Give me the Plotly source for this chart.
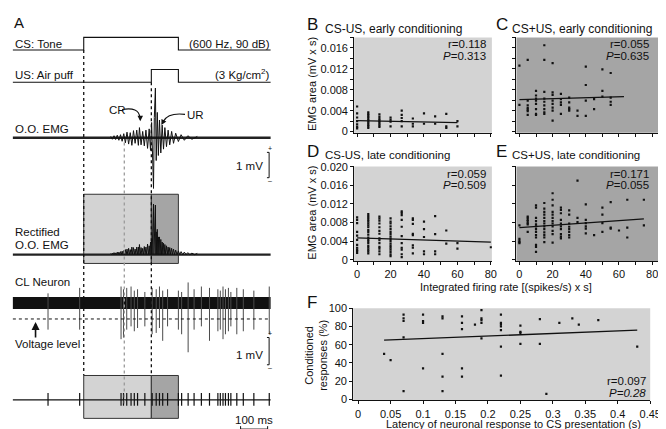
import plotly.graph_objects as go

W, H = 666, 429
FONT = "Arial, 'Liberation Sans', Helvetica, sans-serif"
LIGHT = "#d3d3d3"
DARK = "#a5a5a5"
BLACK = "#111111"

# ---------------- Panel A data (times in ms from CS onset) ----------------
t_start, t_end = -262, 691
cs_on, cs_off = 0, 350
us_on, us_off = 250, 350
neuron_latency = 150
scale_ms = 100          # time scale bar
scale_mv = 1            # voltage scale bars

# O.O. EMG burst (mV)
emg_t = [100, 106, 112, 118, 124, 130, 136, 142, 148, 154, 160, 166, 172, 178, 184, 190, 196,
         202, 206, 212, 218, 224, 230, 236, 242, 247, 251, 255, 258, 261, 265, 268, 272, 276,
         280, 285, 290, 295, 300, 306, 312, 318, 325, 332, 340, 350, 360, 372, 385, 400, 420]
emg_v = [0.05, -0.06, 0.08, -0.07, 0.1, -0.1, 0.12, -0.14, 0.16, -0.2, 0.22, -0.25, 0.2, -0.3,
         0.28, -0.22, 0.3, -0.3, 0.4, -0.28, 0.25, -0.32, 0.3, -0.42, 0.35, -0.5, 0.6, -0.9,
         -2.0, 0.8, 1.96, -0.9, 1.0, -0.7, 0.7, -0.6, 0.5, -0.45, 0.4, -0.35, 0.3, -0.28, 0.25,
         -0.22, 0.18, -0.15, 0.12, -0.1, 0.08, -0.06, 0.05]

# CL neuron spikes: time (ms), downward and upward deflection (mV)
spike_t = [-132, -15, 138, 147, 159, 175, 187, 199, 226, 253, 268, 280, 292, 310, 350, 362,
           386, 408, 435, 465, 496, 505, 515, 524, 535, 544, 566, 590, 629, 686]
spike_down = [0.98, 0.98, 1.33, 1.27, 0.98, 0.86, 1.04, 0.92, 0.86, 1.15, 1.1, 0.92, 1.39,
              0.86, 0.98, 1.15, 1.81, 0.98, 0.86, 1.39, 1.04, 0.98, 1.33, 1.15, 1.04, 0.86,
              1.15, 1.04, 0.98, 1.15]
spike_up = [0.35, 0.55, 0.6, 0.5, 0.55, 0.6, 0.45, 0.5, 0.4, 0.55, 0.5, 0.6, 0.45, 0.5, 0.45,
            0.4, 0.75, 0.5, 0.6, 0.55, 0.5, 0.45, 0.6, 0.5, 0.55, 0.4, 0.55, 0.5, 0.45, 0.6]

# ---------------- Panels B-F data ----------------
B_cols = [0, 6.67, 13.33, 20, 26.67, 33.33, 40, 46.67, 53.33, 60]
B_vals = [[0.0048, 0.0035, 0.0027, 0.0020, 0.0014, 0.0009, 0.0006],
          [0.0037, 0.0034, 0.0031, 0.0028, 0.0025, 0.0022, 0.0019, 0.0016, 0.0013, 0.0010, 0.0007],
          [0.0033, 0.0028, 0.0024, 0.0021, 0.0018, 0.0015, 0.0012, 0.0009],
          [0.0027, 0.0023, 0.0019, 0.0010],
          [0.0040, 0.0032, 0.0026, 0.0020, 0.0010],
          [0.0025, 0.0015, 0.0010],
          [0.0035, 0.0015],
          [0.0029, 0.0015],
          [0.0034, 0.0010, 0.0007],
          [0.0020, 0.0010]]
B_fit_x, B_fit_y = [0, 60], [0.0021, 0.0017]

C_cols = [0, 5, 10, 15, 20, 25, 30, 35, 40, 45, 50, 55]
C_vals = [[0.0126, 0.0051],
          [0.0137, 0.0059, 0.0050, 0.0045, 0.0042, 0.0039, 0.0032],
          [0.0078, 0.0069, 0.0063, 0.0059, 0.0053, 0.0043, 0.0034, 0.0032],
          [0.0165, 0.0137, 0.0076, 0.0063, 0.0057, 0.0050, 0.0043, 0.0037, 0.0034],
          [0.0131, 0.0075, 0.0070, 0.0059, 0.0053, 0.0046, 0.0040, 0.0021],
          [0.0072, 0.0062, 0.0056, 0.0051, 0.0034],
          [0.0065, 0.0056, 0.0046, 0.0043, 0.0040],
          [0.0040, 0.0030],
          [0.0124, 0.0089, 0.0059, 0.0030],
          [0.0062, 0.0043],
          [0.0119, 0.0078, 0.0067],
          [0.0112, 0.0065, 0.0057, 0.0051]]
C_fit_x, C_fit_y = [0, 63], [0.0061, 0.0067]

D_cols = [0, 6.67, 13.33, 20, 26.67, 33.33, 40, 46.67, 53.33, 60, 80]
D_vals = [[0.0091, 0.0086, 0.0079, 0.0060, 0.0052, 0.0043, 0.0032, 0.0026, 0.0022, 0.0019, 0.0015],
          [0.0098, 0.0094, 0.0090, 0.0086, 0.0082, 0.0078, 0.0074, 0.0070, 0.0064, 0.0060,
           0.0054, 0.0048, 0.0044, 0.0040, 0.0036, 0.0030, 0.0026, 0.0022, 0.0018, 0.0014],
          [0.0093, 0.0089, 0.0084, 0.0078, 0.0070, 0.0062, 0.0056, 0.0046, 0.0042, 0.0036,
           0.0028, 0.0024, 0.0018, 0.0012],
          [0.0089, 0.0082, 0.0078, 0.0072, 0.0066, 0.0060, 0.0055, 0.0050, 0.0045, 0.0040,
           0.0035, 0.0030, 0.0026, 0.0022, 0.0017, 0.0012, 0.0008],
          [0.0104, 0.0101, 0.0096, 0.0086, 0.0071, 0.0051, 0.0036, 0.0026, 0.0022, 0.0012, 0.0006],
          [0.0089, 0.0086, 0.0077, 0.0056, 0.0053, 0.0031, 0.0026, 0.0014],
          [0.0082, 0.0066, 0.0049, 0.0018, 0.0012],
          [0.0094, 0.0055, 0.0018, 0.0012],
          [0.0063, 0.0035],
          [0.0036, 0.0024],
          [0.0027]]
D_fit_x, D_fit_y = [0, 80], [0.0047, 0.0038]

E_cols = [0, 5, 10, 15, 20, 25, 30, 35, 40, 45, 50, 55, 60, 65, 75]
E_vals = [[0.0074, 0.0045, 0.0041, 0.0038, 0.0036],
          [0.0093, 0.0090, 0.0086, 0.0083, 0.0079, 0.0076, 0.0060],
          [0.0117, 0.0112, 0.0090, 0.0083, 0.0076, 0.0072, 0.0066, 0.0060, 0.0053, 0.0048,
           0.0032, 0.0028, 0.0017],
          [0.0122, 0.0110, 0.0103, 0.0097, 0.0090, 0.0083, 0.0078, 0.0072, 0.0066, 0.0059,
           0.0053, 0.0048, 0.0038],
          [0.0143, 0.0129, 0.0117, 0.0103, 0.0097, 0.0090, 0.0083, 0.0078, 0.0072, 0.0062,
           0.0055, 0.0037],
          [0.0112, 0.0107, 0.0100, 0.0086, 0.0078, 0.0072, 0.0066, 0.0055, 0.0050, 0.0046],
          [0.0106, 0.0097, 0.0078, 0.0071, 0.0066, 0.0060, 0.0053, 0.0048],
          [0.0170, 0.0090, 0.0081],
          [0.0119, 0.0086, 0.0079, 0.0072, 0.0067, 0.0057],
          [0.0053],
          [0.0112, 0.0097, 0.0079, 0.0060],
          [0.0124, 0.0069, 0.0067],
          [0.0063],
          [0.0129, 0.0069, 0.0048],
          [0.0129, 0.0074]]
E_fit_x, E_fit_y = [0, 75], [0.0069, 0.0088]

F_cols = [0.04, 0.05, 0.07, 0.10, 0.13, 0.16, 0.18, 0.19, 0.22, 0.25, 0.28, 0.29, 0.31,
          0.33, 0.34, 0.37, 0.43]
F_vals = [[50], [43], [93, 89, 86, 68, 9], [93, 86, 84, 34], [91, 89, 50, 25, 9],
          [91, 84, 77, 34, 25], [82], [98, 89, 87, 84, 67], [93, 84, 82, 80, 76, 58, 26],
          [81, 74, 73, 61], [88, 61], [6], [84], [89], [82], [87], [58]]
F_fit_x, F_fit_y = [0.04, 0.43], [65, 76]

B_ticks_y = [0, 0.002, 0.004, 0.006, 0.008, 0.010, 0.012, 0.014, 0.016, 0.018]
B_ticktext_y = ["0", "", "0.004", "", "0.008", "", "0.012", "", "0.016", ""]
D_ticks_y = [0, 0.004, 0.008, 0.012, 0.016, 0.020]
D_ticktext_y = ["0", "0.004", "0.008", "0.012", "0.016", "0.020"]
rate_ticks = [0, 10, 20, 30, 40, 50, 60, 70, 80]
rate_ticktext = ["0", "", "20", "", "40", "", "60", "", "80"]
F_ticks_x = [0, 0.05, 0.1, 0.15, 0.2, 0.25, 0.3, 0.35, 0.4, 0.45]
F_ticktext_x = ["0", "0.05", "0.1", "0.15", "0.2", "0.25", "0.3", "0.35", "0.4", "0.45"]
F_ticks_y = [0, 20, 40, 60, 80, 100]

# ---------------- layout constants for panel A (pixel rows) ----------------
A_X0, A_PPMS = 77.0, 0.275          # pixel of CS onset, px per ms
def tA(X):
    return (X - A_X0) / A_PPMS

CS_LO, CS_HI = 37, 24
US_LO, US_HI = 70, 57
EMG_BASE, EMG_PX = 127, 26
RECT_BASE = 247
NEU_BASE, NEU_PX = 296.5, 28
VOLT_LEVEL = 313
RAS_BASE = 396

fig = go.Figure()

def line_trace(x, y, width=1.0, color=BLACK, xa="x", ya="y"):
    fig.add_trace(go.Scatter(x=x, y=y, mode="lines", line=dict(color=color, width=width),
                             xaxis=xa, yaxis=ya, hoverinfo="skip", showlegend=False))

# CS and US steps
line_trace([t_start, cs_on, cs_on, cs_off, cs_off, t_end],
           [CS_LO, CS_LO, CS_HI, CS_HI, CS_LO, CS_LO], 1.1)
line_trace([t_start, us_on, us_on, us_off, us_off, t_end],
           [US_LO, US_LO, US_HI, US_HI, US_LO, US_LO], 1.1)

# EMG
line_trace([t_start, t_end], [EMG_BASE, EMG_BASE], 2.3, "#222222")
line_trace(emg_t, [EMG_BASE - v * EMG_PX for v in emg_v], 1.0)

# Rectified EMG: |v| with the zero crossings between samples of opposite sign
rt, rv = [], []
for i, (t, v) in enumerate(zip(emg_t, emg_v)):
    if i > 0 and (v > 0) != (emg_v[i - 1] > 0):
        rt.append((t + emg_t[i - 1]) / 2)
        rv.append(0)
    rt.append(t)
    rv.append(abs(v))
line_trace([t_start, t_end], [RECT_BASE, RECT_BASE], 2.3, "#222222")
line_trace(rt, [RECT_BASE - v * EMG_PX for v in rv], 1.0)

# Neuron
line_trace([t_start, t_end], [NEU_BASE, NEU_BASE], 12, BLACK)
sx, sy = [], []
for t, d, u in zip(spike_t, spike_down, spike_up):
    sx += [t, t, None]
    sy += [NEU_BASE - u * NEU_PX, NEU_BASE + d * NEU_PX, None]
line_trace(sx, sy, 1.0, "#4a4a4a")

# Raster
line_trace([t_start, t_end], [RAS_BASE, RAS_BASE], 1.2)
rx, ry = [], []
for t in spike_t:
    rx += [t, t, None]
    ry += [RAS_BASE - 7, RAS_BASE + 6, None]
line_trace(rx, ry, 1.2)

# ---------------- scatter panels ----------------
def scatter_cols(cols, vals, xa, ya):
    xs, ys = [], []
    for c, vs in zip(cols, vals):
        xs += [c] * len(vs)
        ys += vs
    fig.add_trace(go.Scatter(x=xs, y=ys, mode="markers",
                             marker=dict(symbol="square", size=2.2, color=BLACK, line=dict(width=0)),
                             xaxis=xa, yaxis=ya, hoverinfo="skip", showlegend=False))

for cols, vals, fx, fy, n in [(B_cols, B_vals, B_fit_x, B_fit_y, 2),
                              (C_cols, C_vals, C_fit_x, C_fit_y, 3),
                              (D_cols, D_vals, D_fit_x, D_fit_y, 4),
                              (E_cols, E_vals, E_fit_x, E_fit_y, 5),
                              (F_cols, F_vals, F_fit_x, F_fit_y, 6)]:
    scatter_cols(cols, vals, f"x{n}", f"y{n}")
    line_trace(fx, fy, 1.3, BLACK, f"x{n}", f"y{n}")

# ---------------- axes ----------------
def ax(**kw):
    base = dict(showgrid=False, zeroline=False, showline=True, linecolor=BLACK, linewidth=1,
                ticks="outside", ticklen=3, tickwidth=1, tickcolor=BLACK, fixedrange=True,
                tickfont=dict(family=FONT, size=11, color=BLACK))
    base.update(kw)
    return base

def dom_x(a, b): return [a / W, b / W]
def dom_y(top, bottom): return [1 - bottom / H, 1 - top / H]

layout_axes = dict(
    xaxis=dict(domain=[0, 270 / W], range=[tA(0), tA(270)], visible=False, fixedrange=True),
    yaxis=dict(domain=[0, 1], range=[H, 0], visible=False, fixedrange=True),
    xaxis2=ax(domain=dom_x(352, 492), range=[-1.76, 80.6], anchor="y2",
              tickvals=rate_ticks, showticklabels=False),
    yaxis2=ax(domain=dom_y(24, 122), range=[-0.00024, 0.018], anchor="x2",
              tickvals=B_ticks_y, ticktext=B_ticktext_y),
    xaxis3=ax(domain=dom_x(517, 663), range=[-1.78, 84.74], anchor="y3",
              tickvals=rate_ticks, showticklabels=False),
    yaxis3=ax(domain=dom_y(24, 122), range=[-0.00024, 0.018], anchor="x3",
              tickvals=B_ticks_y, showticklabels=False),
    xaxis4=ax(domain=dom_x(352, 492), range=[-1.76, 80.6], anchor="y4",
              tickvals=rate_ticks, ticktext=rate_ticktext),
    yaxis4=ax(domain=dom_y(156.5, 253.5), range=[-0.00025, 0.02004], anchor="x4",
              tickvals=D_ticks_y, ticktext=D_ticktext_y),
    xaxis5=ax(domain=dom_x(517, 663), range=[-1.78, 84.74], anchor="y5",
              tickvals=rate_ticks, ticktext=rate_ticktext),
    yaxis5=ax(domain=dom_y(156.5, 253.5), range=[-0.00025, 0.02004], anchor="x5",
              tickvals=D_ticks_y, showticklabels=False),
    xaxis6=ax(domain=dom_x(351, 653), range=[-0.0076, 0.45], anchor="y6",
              tickvals=F_ticks_x, ticktext=F_ticktext_x),
    yaxis6=ax(domain=dom_y(302, 396.5), range=[-1.04, 100], anchor="x6",
              tickvals=F_ticks_y),
)

# ---------------- shapes ----------------
shapes = []
for n, col in [(2, LIGHT), (3, DARK), (4, LIGHT), (5, DARK), (6, LIGHT)]:
    shapes.append(dict(type="rect", xref=f"x{n} domain", yref=f"y{n} domain", x0=0, x1=1,
                       y0=0, y1=1, fillcolor=col, line=dict(width=0), layer="below"))

for top, bot in [(185, 256), (371, 415)]:
    shapes.append(dict(type="rect", xref="x", yref="y", x0=cs_on, x1=us_on, y0=top, y1=bot,
                       fillcolor=LIGHT, line=dict(color="#333333", width=1), layer="below"))
    shapes.append(dict(type="rect", xref="x", yref="y", x0=us_on, x1=cs_off, y0=top, y1=bot,
                       fillcolor=DARK, line=dict(color="#333333", width=1), layer="below"))

# dotted guide lines
shapes.append(dict(type="line", xref="x", yref="y", x0=cs_on, x1=cs_on, y0=CS_LO, y1=371,
                   line=dict(color=BLACK, width=1.3, dash="dot")))
shapes.append(dict(type="line", xref="x", yref="y", x0=us_on, x1=us_on, y0=US_LO, y1=371,
                   line=dict(color=BLACK, width=1.3, dash="dot")))
shapes.append(dict(type="line", xref="x", yref="y", x0=neuron_latency, x1=neuron_latency,
                   y0=132, y1=402, line=dict(color="#9a9a9a", width=1.3, dash="dot")))
shapes.append(dict(type="line", xref="x", yref="y", x0=t_start, x1=t_end, y0=VOLT_LEVEL,
                   y1=VOLT_LEVEL, line=dict(color=BLACK, width=1, dash="dot")))

# voltage scale bars
tb = tA(265.5)
for top in [142, 332]:
    bot = top + scale_mv * (EMG_PX if top < 200 else NEU_PX)
    shapes.append(dict(type="line", xref="x", yref="y", x0=tb, x1=tb, y0=top, y1=bot,
                       line=dict(color=BLACK, width=1)))
    for yy in (top, bot):
        shapes.append(dict(type="line", xref="x", yref="y", x0=tb - 8, x1=tb, y0=yy, y1=yy,
                           line=dict(color=BLACK, width=1)))
# time scale bar
te = tA(264)
shapes.append(dict(type="line", xref="x", yref="y", x0=te - scale_ms, x1=te, y0=426, y1=426,
                   line=dict(color=BLACK, width=1)))
for xx in (te - scale_ms, te):
    shapes.append(dict(type="line", xref="x", yref="y", x0=xx, x1=xx, y0=423, y1=426,
                       line=dict(color=BLACK, width=1)))

# CR / UR curved arrows
shapes.append(dict(type="path", xref="x", yref="y",
                   path=f"M {tA(116)} 98 Q {tA(133)} 95 {tA(134)} 106",
                   line=dict(color=BLACK, width=1.1)))
shapes.append(dict(type="path", xref="x", yref="y",
                   path=f"M {tA(180)} 103 Q {tA(163)} 101 {tA(158)} 110",
                   line=dict(color=BLACK, width=1.1)))

# ---------------- annotations ----------------
anns = []
def ann(text, X, Y, size=11.5, xanchor="left", **kw):
    d = dict(text=text, x=X / W, y=1 - Y / H, xref="paper", yref="paper", showarrow=False,
             xanchor=xanchor, yanchor="middle", font=dict(family=FONT, size=size, color=BLACK))
    d.update(kw)
    anns.append(d)

ann("A", 4, 9, 15)
ann("CS: Tone", 5, 31)
ann("(600 Hz, 90 dB)", 268, 31, xanchor="right")
ann("US: Air puff", 5, 63)
ann("(3 Kg/cm<sup>2</sup>)", 268, 62, xanchor="right")
ann("O.O. EMG", 5, 118)
ann("CR", 101, 99)
ann("UR", 180, 104)
ann("1 mV", 261, 156, xanchor="right")
ann("+", 266, 138, 7, xanchor="center")
ann("–", 266, 171, 7, xanchor="center")
ann("Rectified", 5, 224)
ann("O.O. EMG", 5, 237)
ann("CL Neuron", 5, 275)
ann("Voltage level", 5, 339)
ann("1 mV", 261, 350, xanchor="right")
ann("+", 266, 328, 7, xanchor="center")
ann("–", 266, 363, 7, xanchor="center")
ann("100 ms", 250, 417, xanchor="center")

# arrows (heads)
anns.append(dict(x=tA(28), y=316, xref="x", yref="y", ax=0, ay=17, text="", showarrow=True,
                 arrowhead=2, arrowsize=1, arrowwidth=1.6, arrowcolor=BLACK))
anns.append(dict(x=tA(134.5), y=110, xref="x", yref="y", ax=0, ay=-5, text="", showarrow=True,
                 arrowhead=2, arrowsize=1, arrowwidth=1.1, arrowcolor=BLACK))
anns.append(dict(x=tA(156), y=114, xref="x", yref="y", ax=3, ay=-6, text="", showarrow=True,
                 arrowhead=2, arrowsize=1, arrowwidth=1.1, arrowcolor=BLACK))

# panel letters & titles
ann("B", 302, 11, 17)
ann("CS-US, early conditioning", 320, 15, 12)
ann("C", 494, 11, 17)
ann("CS+US, early conditioning", 510, 15, 12)
ann("D", 302, 141, 17)
ann("CS-US, late conditioning", 320, 145, 11.5)
ann("E", 494, 141, 17)
ann("CS+US, late conditioning", 510, 145, 11.5)
ann("F", 302, 296, 17)

# stats
ann("r=0.118", 488, 31, xanchor="right")
ann("<i>P</i>=0.313", 488, 43, xanchor="right")
ann("r=0.055", 654, 31, xanchor="right")
ann("<i>P</i>=0.635", 654, 43, xanchor="right")
ann("r=0.059", 488, 164, xanchor="right")
ann("<i>P</i>=0.509", 488, 175, xanchor="right")
ann("r=0.171", 654, 164, xanchor="right")
ann("<i>P</i>=0.055", 654, 175, xanchor="right")
ann("r=0.097", 651, 377, xanchor="right")
ann("<i>P=0.28</i>", 651, 389, xanchor="right")

# axis titles
ann("EMG area (mV x s)", 309, 72, 11, xanchor="center", textangle=-90)
ann("EMG area (mV x s)", 309, 204, 11, xanchor="center", textangle=-90)
ann("Conditioned<br>responses (%)", 313, 350, 11, xanchor="center", textangle=-90)
ann("Integrated firing rate [(spikes/s) x s]", 506, 280, 11, xanchor="center")
ann("Latency of neuronal response to CS presentation (s)", 514, 421, 11, xanchor="center")

fig.update_layout(width=W, height=H, margin=dict(l=0, r=0, t=0, b=0),
                  paper_bgcolor="white", plot_bgcolor="rgba(0,0,0,0)",
                  showlegend=False, shapes=shapes, annotations=anns,
                  font=dict(family=FONT, size=11.5, color=BLACK), **layout_axes)

fig.write_html("out.html")
